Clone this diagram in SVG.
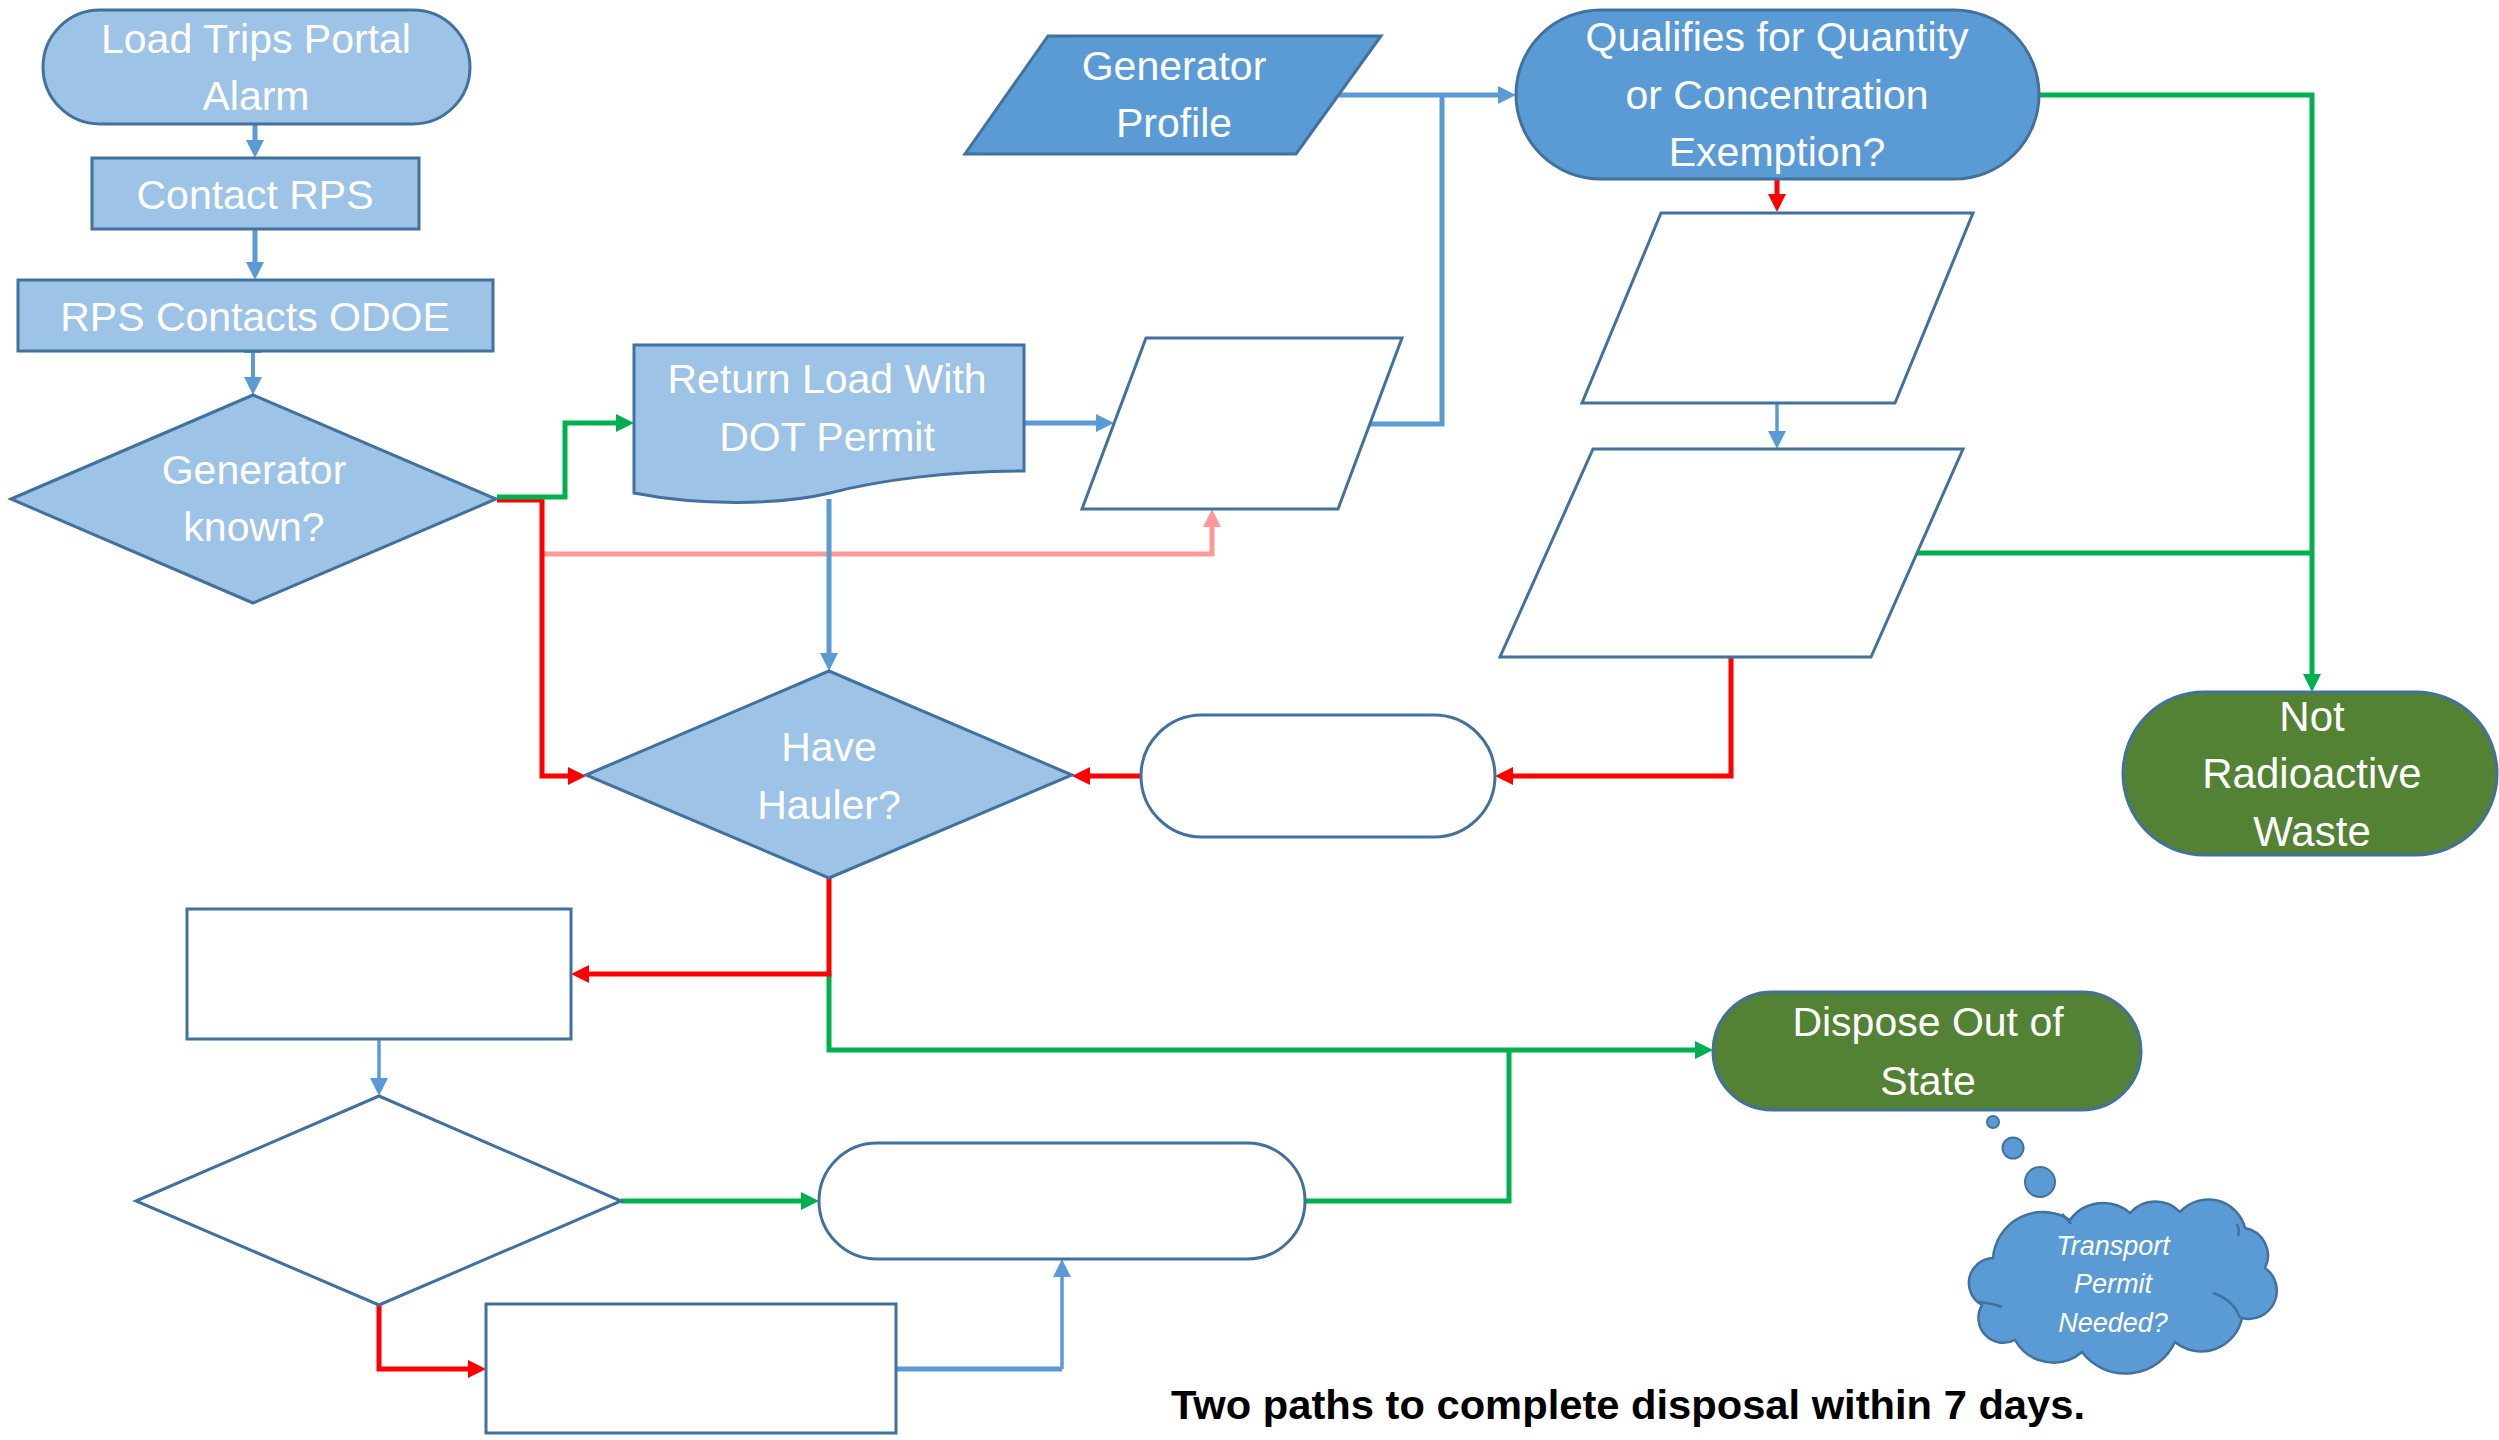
<svg xmlns="http://www.w3.org/2000/svg" width="2499" height="1440" viewBox="0 0 2499 1440">
<style>
.lb{fill:#9dc3e6;stroke:#41719c;stroke-width:3}
.mb{fill:#5b9bd5;stroke:#41719c;stroke-width:3}
.gr{fill:#548235;stroke:#41719c;stroke-width:3}
.wh{fill:#ffffff;stroke:#41719c;stroke-width:3}
.t{font-family:"Liberation Sans",Arial,sans-serif;font-size:41px;fill:#ffffff;text-anchor:middle}
.ti{font-family:"Liberation Sans",Arial,sans-serif;font-size:27px;font-style:italic;fill:#ffffff;text-anchor:middle}
.c{fill:none;stroke-width:5;stroke-linejoin:miter}
.cb{stroke:#5b9bd5}
.cg{stroke:#00b050}
.cr{stroke:#ff0000}
.cp{stroke:#ff9999}
</style>
<defs>
<marker id="ab" markerUnits="userSpaceOnUse" markerWidth="18" markerHeight="18" refX="6" refY="9" orient="auto-start-reverse"><path d="M0,0 L18,9 L0,18 z" fill="#5b9bd5"/></marker>
<marker id="ag" markerUnits="userSpaceOnUse" markerWidth="18" markerHeight="18" refX="6" refY="9" orient="auto"><path d="M0,0 L18,9 L0,18 z" fill="#00b050"/></marker>
<marker id="ar" markerUnits="userSpaceOnUse" markerWidth="18" markerHeight="18" refX="6" refY="9" orient="auto"><path d="M0,0 L18,9 L0,18 z" fill="#ff0000"/></marker>
<marker id="ap" markerUnits="userSpaceOnUse" markerWidth="18" markerHeight="18" refX="6" refY="9" orient="auto"><path d="M0,0 L18,9 L0,18 z" fill="#ff9999"/></marker>
</defs>
<rect width="2499" height="1440" fill="#ffffff"/>

<g id="connectors">
<path class="c cb" d="M255,124 V146" marker-end="url(#ab)"/>
<path class="c cb" d="M255,229 V268" marker-end="url(#ab)"/>
<path class="c cb" style="stroke-width:4" d="M253,347 V383" marker-start="url(#ab)" marker-end="url(#ab)"/>
<path class="c cp" d="M542,554 H1212 V521" marker-end="url(#ap)"/>
<path class="c cr" d="M497,500 H542 V776 H574" marker-end="url(#ar)"/>
<path class="c cg" d="M497,497 H565 V423 H622" marker-end="url(#ag)"/>
<path class="c cb" d="M1024,423 H1102" marker-end="url(#ab)"/>
<path class="c cb" d="M829,499 V659" marker-end="url(#ab)"/>
<path class="c cb" d="M1338,95 H1504" marker-end="url(#ab)"/>
<path class="c cb" d="M1369,424 H1442 V95"/>
<path class="c cr" d="M1777,179 V200" marker-end="url(#ar)"/>
<path class="c cb" style="stroke-width:3.5" d="M1777,403 V437" marker-end="url(#ab)"/>
<path class="c cg" d="M2040,95 H2312 V680" marker-end="url(#ag)"/>
<path class="c cg" d="M1916,553 H2312"/>
<path class="c cr" d="M1731,657 V776 H1507" marker-end="url(#ar)"/>
<path class="c cr" d="M1141,776 H1084" marker-end="url(#ar)"/>
<path class="c cg" d="M829,974 V1050 H1701" marker-end="url(#ag)"/>
<path class="c cr" d="M829,878 V974 H583" marker-end="url(#ar)"/>
<path class="c cb" style="stroke-width:3.5" d="M379,1039 V1084" marker-end="url(#ab)"/>
<path class="c cg" d="M621,1201 H807" marker-end="url(#ag)"/>
<path class="c cr" d="M379,1305 V1369 H474" marker-end="url(#ar)"/>
<path class="c cb" d="M896,1369 H1062"/>
<path class="c cb" style="stroke-width:3.5" d="M1062,1369 V1271" marker-end="url(#ab)"/>
<path class="c cg" d="M1305,1201 H1509 V1050"/>
</g>

<g id="load-trips">
<rect class="lb" x="43" y="10" width="427" height="114" rx="57"/>
<text class="t" x="256" y="53">Load Trips Portal</text>
<text class="t" x="256" y="110">Alarm</text>
</g>
<g id="contact-rps">
<rect class="lb" x="92" y="158" width="327" height="71"/>
<text class="t" x="255" y="209">Contact RPS</text>
</g>
<g id="rps-contacts-odoe">
<rect class="lb" x="18" y="280" width="475" height="71"/>
<text class="t" x="255" y="331">RPS Contacts ODOE</text>
</g>
<g id="generator-known">
<polygon class="lb" points="11,499 253,395 496,499 253,603"/>
<text class="t" x="254" y="484">Generator</text>
<text class="t" x="254" y="541">known?</text>
</g>
<g id="return-load">
<path class="lb" d="M634,345 H1024 V471 C950,471 880,480 830,493 C780,505 700,506 634,493 Z"/>
<text class="t" x="827" y="393">Return Load With</text>
<text class="t" x="827" y="451">DOT Permit</text>
</g>
<g id="generator-profile">
<polygon class="mb" points="1048,36 1381,36 1296,154 965,154"/>
<text class="t" x="1174" y="80">Generator</text>
<text class="t" x="1174" y="137">Profile</text>
</g>
<g id="blank-data-1">
<polygon class="wh" points="1146,338 1402,338 1338,509 1082,509"/>
</g>
<g id="qualifies">
<rect class="mb" x="1516" y="10" width="523" height="169" rx="84.5"/>
<text class="t" x="1777" y="51">Qualifies for Quantity</text>
<text class="t" x="1777" y="109">or Concentration</text>
<text class="t" x="1777" y="166">Exemption?</text>
</g>
<g id="blank-data-2">
<polygon class="wh" points="1661,213 1973,213 1895,403 1582,403"/>
</g>
<g id="blank-data-3">
<polygon class="wh" points="1593,449 1963,449 1871,657 1500,657"/>
</g>
<g id="not-radioactive">
<rect class="gr" x="2123" y="692" width="374" height="163" rx="81"/>
<text class="t" x="2312" y="731" style="font-size:42px">Not</text>
<text class="t" x="2312" y="788" style="font-size:42px">Radioactive</text>
<text class="t" x="2312" y="846" style="font-size:42px">Waste</text>
</g>
<g id="have-hauler">
<polygon class="lb" points="586,775 829,671 1072,775 829,878"/>
<text class="t" x="829" y="761">Have</text>
<text class="t" x="829" y="819">Hauler?</text>
</g>
<g id="blank-terminator-1">
<rect class="wh" x="1141" y="715" width="354" height="122" rx="61"/>
</g>
<g id="blank-process-1">
<rect class="wh" x="187" y="909" width="384" height="130"/>
</g>
<g id="blank-decision">
<polygon class="wh" points="136,1201 379,1096 621,1201 379,1305"/>
</g>
<g id="blank-terminator-2">
<rect class="wh" x="819" y="1143" width="486" height="116" rx="58"/>
</g>
<g id="blank-process-2">
<rect class="wh" x="486" y="1304" width="410" height="129"/>
</g>
<g id="dispose-out-of-state">
<rect class="gr" x="1713" y="992" width="428" height="118" rx="59"/>
<text class="t" x="1928" y="1036">Dispose Out of</text>
<text class="t" x="1928" y="1095">State</text>
</g>
<g id="transport-permit-thought">
<circle class="mb" cx="1993" cy="1122" r="6" style="stroke-width:2"/>
<circle class="mb" cx="2013" cy="1148" r="10.5" style="stroke-width:2"/>
<circle class="mb" cx="2040" cy="1182" r="15" style="stroke-width:2"/>
<path class="mb" style="stroke-width:2.5" d="M1993,1258 A50,50 0 0 1 2070,1220 A41,41 0 0 1 2130,1213 A34,34 0 0 1 2180,1212 A38,38 0 0 1 2245,1228 A28,28 0 0 1 2265,1268 A28,28 0 0 1 2242,1318 A41.5,41.5 0 0 1 2175,1342 A54.6,54.6 0 0 1 2082,1352 A44,44 0 0 1 2015,1340 A25,25 0 0 1 1982,1305 A25,25 0 0 1 1993,1258 Z"/>
<path fill="none" stroke="#41719c" stroke-width="2.5" d="M2213,1293 Q2234,1300 2240,1318 M1978,1302 Q1992,1303 2002,1307 M2062,1214 Q2068,1220 2071,1224 M2237,1224 Q2240,1230 2238,1236"/>
<text class="ti" x="2113" y="1255">Transport</text>
<text class="ti" x="2113" y="1293">Permit</text>
<text class="ti" x="2113" y="1332">Needed?</text>
</g>
<text x="1171" y="1419" font-family="'Liberation Sans',Arial,sans-serif" font-size="41" font-weight="bold" fill="#000000" textLength="914" lengthAdjust="spacingAndGlyphs">Two paths to complete disposal within 7 days.</text>
</svg>
